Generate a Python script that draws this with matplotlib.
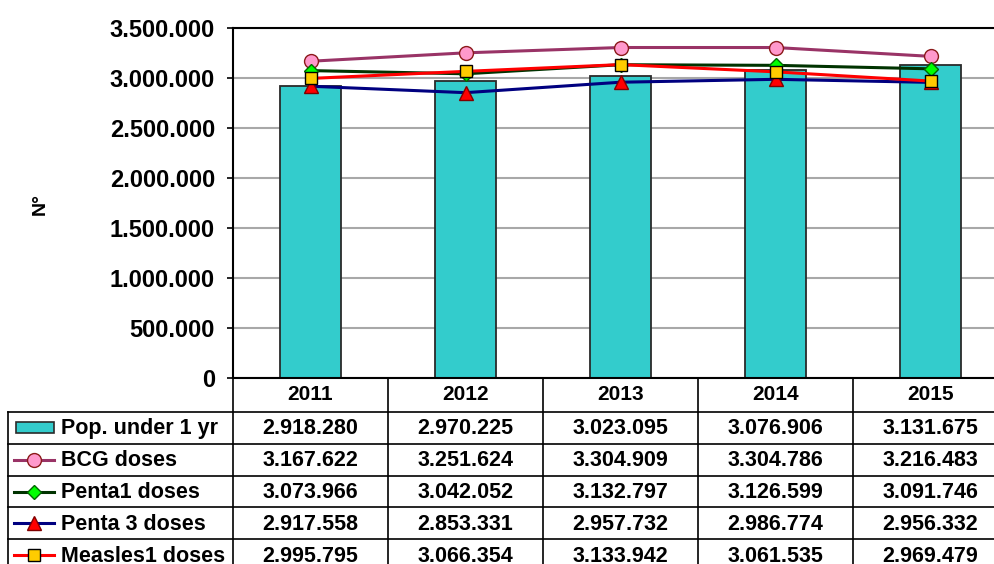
import numpy as np
import matplotlib.pyplot as plt
from matplotlib.patches import Rectangle

plt.rcParams['font.family'] = ['Liberation Sans', 'DejaVu Sans']
plt.rcParams['font.weight'] = 'bold'

years = ["2011", "2012", "2013", "2014", "2015"]
pop_under_1 = [2918280, 2970225, 3023095, 3076906, 3131675]
bcg_doses = [3167622, 3251624, 3304909, 3304786, 3216483]
penta1_doses = [3073966, 3042052, 3132797, 3126599, 3091746]
penta3_doses = [2917558, 2853331, 2957732, 2986774, 2956332]
measles1_doses = [2995795, 3066354, 3133942, 3061535, 2969479]
series_names = ["Pop. under 1 yr", "BCG doses", "Penta1 doses",
                "Penta 3 doses", "Measles1 doses"]
yticks = np.arange(0, 3500001, 500000)


def fmt(v):
    return f"{v:,}".replace(",", ".")


W, H = 994, 564
fig = plt.figure(figsize=(W / 100, H / 100), dpi=100)

# plot area in pixels: x 233..1008 (right side cropped), y 28..378
px_left, px_right, px_top, px_bottom = 233, 1008, 28, 378
ax = fig.add_axes([px_left / W, 1 - px_bottom / H,
                   (px_right - px_left) / W, (px_bottom - px_top) / H])
x = np.arange(len(years))

ax.bar(x, pop_under_1, width=0.39, color="#33CCCC", edgecolor="#2a2a2a",
       linewidth=1.3, zorder=2)

styles = [
    dict(color="#993366", marker="o", mfc="#FF99CC", mec="#8B1A1A", ms=10),
    dict(color="#003300", marker="D", mfc="#00FF00", mec="#006600", ms=7),
    dict(color="#000080", marker="^", mfc="#FF0000", mec="#800000", ms=10),
    dict(color="#FF0000", marker="s", mfc="#FFCC00", mec="#000000", ms=9),
]
line_series = [bcg_doses, penta1_doses, penta3_doses, measles1_doses]
for vals, st in zip(line_series, styles):
    ax.plot(x, vals, lw=2.2, mew=1.0, zorder=3, **st)

ax.set_xlim(-0.5, len(years) - 0.5)
ax.set_ylim(0, 3500000)
ax.set_yticks(yticks)
ax.set_yticklabels([fmt(v) for v in yticks], fontsize=17, fontweight="bold")
ax.tick_params(axis="y", direction="out", length=4, width=1.2, pad=9)
ax.set_xticks([])
ax.yaxis.grid(True, color="#A8A8A8", lw=1.5, zorder=0)
ax.set_axisbelow(True)
for sp in ax.spines.values():
    sp.set_linewidth(1.5)
    sp.set_color("black")
fig.text(40 / W, 1 - 204 / H, "N°", rotation=90, fontsize=14,
         fontweight="bold", ha="center", va="center")

# data table below the plot
tbl_left = 8
label_w = (px_left - tbl_left) / ((px_right - px_left) / len(years))
header_h, row_h = 34, 31.8
tbl_bottom = px_bottom + header_h + row_h * len(series_names)
tax = fig.add_axes([tbl_left / W, 1 - tbl_bottom / H,
                    (px_right - tbl_left) / W, (tbl_bottom - px_bottom) / H])
tax.set_xlim(-0.5 - label_w, len(years) - 0.5)
tax.set_ylim(tbl_bottom - px_bottom, 0)
tax.axis("off")

lc = dict(color="black", lw=1.2, clip_on=False)
row_tops = header_h + row_h * np.arange(len(series_names) + 1)
# vertical lines
for i in range(len(years) + 1):
    tax.plot([i - 0.5, i - 0.5], [0, row_tops[-1]], **lc)
tax.plot([-0.5 - label_w, -0.5 - label_w], [header_h, row_tops[-1]], **lc)
# horizontal lines
for yy in row_tops:
    tax.plot([-0.5 - label_w, len(years) - 0.5], [yy, yy], **lc)

for i, yr in enumerate(years):
    tax.text(i, header_h / 2, yr, ha="center", va="center", fontsize=15,
             fontweight="bold")

all_vals = [pop_under_1] + line_series
key_x0 = -0.5 - label_w + 6 / 155
key_w = 40 / 155
for r, (name, vals) in enumerate(zip(series_names, all_vals)):
    yc = row_tops[r] + row_h / 2
    for i, v in enumerate(vals):
        tax.text(i, yc + 1, fmt(v), ha="center", va="center", fontsize=15.5,
                 fontweight="bold")
    tax.text(key_x0 + key_w + 7 / 155, yc + 1, name, ha="left", va="center",
             fontsize=15.5, fontweight="bold")
    if r == 0:
        tax.add_patch(Rectangle((key_x0 + 2 / 155, yc - 5.5), key_w - 2 / 155,
                                11, facecolor="#33CCCC", edgecolor="#2a2a2a",
                                lw=1.2))
    else:
        st = styles[r - 1]
        tax.plot([key_x0, key_x0 + key_w], [yc, yc], lw=2.2, color=st["color"])
        tax.plot([key_x0 + key_w / 2], [yc], marker=st["marker"],
                 mfc=st["mfc"], mec=st["mec"], ms=st["ms"], mew=1.0,
                 ls="none")

fig.savefig("out.png", dpi=100)
